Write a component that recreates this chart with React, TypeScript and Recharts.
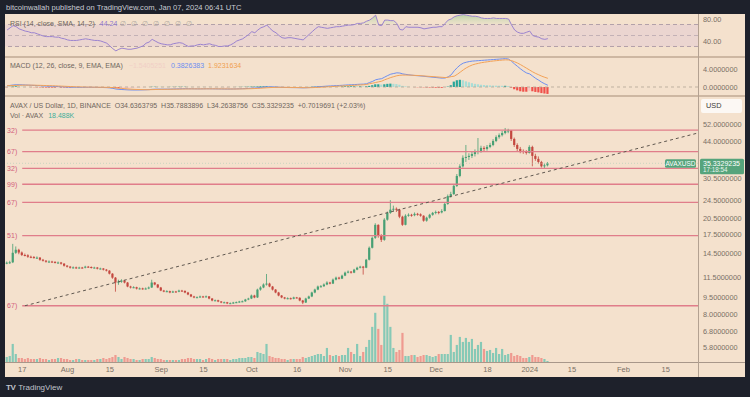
import React from 'react';
import { ComposedChart, Bar, Line, Area, XAxis, YAxis, ReferenceLine, ReferenceArea, Cell } from 'recharts';

// ---- data (daily candles, day 0 = Jul 17 2023) ----
const startDay = -5;
const firstOpen = 13.25;
const closes = [
  13.30, 13.35, 14.66, 15.10, 14.70, 14.35, 14.30, 14.10, 14.05, 13.96,
  13.98, 13.69, 13.56, 13.43, 13.45, 13.40, 13.30, 13.32, 13.17, 12.91,
  12.79, 12.66, 12.70, 12.64, 12.68, 12.66, 12.79, 12.75, 12.66, 12.68,
  12.54, 12.56, 12.42, 12.30, 11.94, 11.48, 10.94, 11.04, 11.15, 10.94,
  10.52, 10.42, 10.45, 10.31, 10.33, 10.30, 10.32, 10.42, 10.94, 10.73,
  10.42, 10.11, 10.02, 10.05, 9.92, 10.02, 10.00, 10.11, 10.08, 9.92,
  9.73, 9.54, 9.45, 9.47, 9.54, 9.52, 9.55, 9.35, 9.17, 9.19,
  9.08, 8.99, 9.01, 8.91, 8.93, 8.99, 9.02, 9.08, 9.10, 9.26,
  9.35, 9.63, 9.45, 10.21, 10.42, 10.73, 10.83, 10.52, 10.21, 9.92,
  9.63, 9.45, 9.35, 9.38, 9.33, 9.45, 9.42, 9.17, 8.99, 9.35,
  9.54, 9.92, 10.21, 10.52, 10.55, 10.73, 10.94, 10.83, 11.26, 11.48,
  11.37, 11.71, 12.06, 12.18, 12.06, 12.42, 12.66, 12.79, 12.66, 13.69,
  15.40, 16.98, 19.29, 17.32, 16.65, 20.30, 21.70, 22.40, 22.60, 22.40,
  20.90, 19.30, 21.10, 21.30, 21.20, 21.50, 21.40, 21.10, 20.10, 20.70,
  21.30, 21.70, 21.90, 21.80, 22.10, 23.70, 25.60, 26.10, 28.30, 31.20,
  34.30, 37.30, 37.60, 38.00, 38.70, 39.50, 39.90, 41.10, 40.70, 41.50,
  42.30, 44.00, 45.70, 46.60, 47.60, 48.60, 48.80, 44.90, 42.30, 40.70,
  39.90, 39.50, 39.10, 41.50, 38.00, 36.90, 35.80, 34.30, 34.6363795, 35.3329235,
];
const highs = [
  13.45, 13.55, 16.00, 15.60, 15.25, 14.85, 14.55, 14.45, 14.25, 14.20,
  14.15, 14.05, 13.80, 13.65, 13.60, 13.55, 13.50, 13.45, 13.40, 13.25,
  13.00, 12.88, 12.82, 12.80, 12.78, 12.76, 12.90, 12.88, 12.82, 12.78,
  12.75, 12.66, 12.62, 12.50, 12.36, 12.00, 11.55, 11.25, 11.30, 11.22,
  11.00, 10.60, 10.55, 10.50, 10.42, 10.40, 10.42, 10.52, 11.25, 11.00,
  10.78, 10.48, 10.18, 10.15, 10.10, 10.10, 10.08, 10.20, 10.18, 10.12,
  9.98, 9.78, 9.60, 9.55, 9.62, 9.60, 9.63, 9.58, 9.40, 9.26,
  9.24, 9.12, 9.07, 9.05, 9.00, 9.05, 9.08, 9.14, 9.17, 9.32,
  9.42, 9.72, 9.70, 10.30, 10.55, 10.85, 11.90, 10.92, 10.58, 10.26,
  9.98, 9.68, 9.50, 9.46, 9.44, 9.52, 9.50, 9.46, 9.22, 9.42,
  9.62, 10.00, 10.30, 10.62, 10.68, 10.85, 11.08, 11.02, 11.38, 11.60,
  11.58, 11.82, 12.18, 12.32, 12.25, 12.52, 12.78, 12.90, 12.88, 13.80,
  15.60, 17.20, 19.60, 19.40, 17.60, 20.60, 22.00, 24.60, 23.30, 22.90,
  22.60, 21.10, 21.40, 21.60, 21.50, 21.80, 21.70, 21.60, 21.20, 20.90,
  21.50, 21.90, 22.20, 22.10, 22.50, 24.00, 26.00, 26.70, 28.80, 31.80,
  35.00, 38.20, 42.30, 39.00, 39.60, 40.50, 45.30, 42.00, 41.80, 42.30,
  43.20, 44.80, 46.50, 47.40, 48.60, 50.00, 49.60, 49.00, 45.50, 43.00,
  41.50, 40.50, 40.20, 42.20, 42.00, 38.80, 37.80, 36.20, 35.20, 35.7883896,
];
const lows = [
  13.10, 13.15, 13.25, 14.50, 14.45, 14.20, 14.15, 13.95, 13.90, 13.85,
  13.80, 13.55, 13.45, 13.30, 13.30, 13.28, 13.20, 13.18, 13.05, 12.80,
  12.68, 12.55, 12.56, 12.52, 12.55, 12.56, 12.58, 12.65, 12.56, 12.56,
  12.45, 12.44, 12.32, 12.20, 11.85, 11.35, 10.00, 10.70, 10.92, 10.85,
  10.45, 10.32, 10.35, 10.22, 10.22, 10.20, 10.22, 10.25, 10.38, 10.65,
  10.35, 10.05, 9.95, 9.95, 9.85, 9.88, 9.92, 9.95, 10.00, 9.85,
  9.66, 9.48, 9.38, 9.40, 9.42, 9.45, 9.46, 9.28, 9.10, 9.11,
  9.02, 8.93, 8.94, 8.85, 8.86, 8.88, 8.94, 8.97, 9.02, 9.05,
  9.20, 9.30, 9.38, 9.40, 10.10, 10.35, 10.62, 10.45, 10.12, 9.85,
  9.56, 9.38, 9.28, 9.28, 9.26, 9.28, 9.35, 9.10, 8.85, 8.95,
  9.30, 9.48, 9.85, 10.15, 10.42, 10.48, 10.66, 10.75, 10.78, 11.18,
  11.28, 11.32, 11.65, 11.98, 11.95, 12.00, 12.35, 12.58, 11.83, 12.60,
  13.60, 15.30, 16.80, 17.00, 16.30, 16.50, 20.10, 21.50, 22.00, 21.90,
  20.60, 19.10, 19.20, 20.90, 20.90, 21.00, 21.10, 20.90, 19.90, 19.90,
  20.50, 21.10, 21.40, 21.40, 21.60, 22.00, 23.50, 25.20, 25.90, 28.00,
  30.80, 33.90, 35.80, 36.50, 37.20, 37.80, 38.60, 39.20, 39.80, 40.00,
  41.00, 41.80, 43.50, 45.00, 46.00, 47.00, 47.50, 44.00, 41.50, 39.80,
  39.00, 38.80, 38.50, 38.90, 34.30, 36.20, 35.20, 33.90, 33.70, 34.2638756,
];
const volumesK = [
  90, 108, 324, 144, 72, 72, 54, 72, 54, 54,
  54, 72, 54, 54, 36, 54, 54, 72, 72, 54,
  54, 36, 36, 54, 54, 36, 36, 36, 36, 36,
  54, 54, 72, 54, 72, 90, 126, 90, 54, 90,
  72, 54, 54, 36, 36, 54, 54, 54, 90, 72,
  54, 54, 36, 36, 36, 36, 36, 36, 54, 54,
  72, 72, 54, 54, 54, 36, 54, 72, 54, 36,
  54, 54, 54, 54, 36, 54, 54, 72, 72, 72,
  90, 90, 72, 180, 162, 144, 324, 108, 90, 72,
  72, 54, 54, 36, 54, 54, 54, 54, 90, 72,
  90, 108, 126, 144, 144, 108, 252, 126, 108, 126,
  108, 126, 126, 252, 180, 144, 324, 108, 180, 270,
  396, 630, 882, 594, 306, 1188, 1044, 630, 252, 180,
  216, 522, 108, 108, 126, 126, 90, 108, 126, 126,
  108, 90, 108, 144, 144, 144, 144, 486, 180, 306,
  450, 360, 432, 360, 414, 234, 306, 360, 234, 198,
  216, 162, 252, 144, 234, 126, 144, 162, 108, 126,
  108, 72, 72, 90, 126, 90, 90, 72, 54, 18.488,
];
const rsi14 = [
  60, 64, 68, 66, 62, 60, 58, 57, 55, 55,
  53, 51, 49, 48, 48, 48, 47, 47, 45, 44,
  42, 41, 41, 41, 42, 43, 44, 43, 42, 41,
  41, 40, 38, 36, 31, 26, 22, 25, 27, 26,
  25, 25, 26, 27, 29, 31, 36, 38, 43, 40,
  37, 35, 34, 33, 33, 35, 36, 37, 36, 33,
  30, 31, 31, 33, 34, 33, 34, 35, 33, 32,
  30, 30, 31, 31, 33, 36, 40, 42, 44, 48,
  52, 57, 55, 60, 64, 66, 69, 63, 58, 55,
  50, 46, 45, 46, 46, 45, 44, 43, 42, 47,
  52, 57, 62, 66, 65, 64, 63, 64, 65, 66,
  66, 67, 68, 69, 69, 70, 72, 72, 73, 76,
  78, 82, 87, 69, 68, 78, 78, 77, 77, 72,
  61, 60, 66, 65, 65, 65, 65, 64, 62, 63,
  64, 65, 65, 66, 66, 72, 78, 80, 84, 86,
  87, 88, 87, 86, 85, 85, 84, 82, 81, 81,
  81, 82, 81, 81, 81, 81, 80, 69, 60, 56,
  54, 54, 56, 58, 50, 48, 47, 44, 43, 44.24,
];
const macdLine = [
  0.25, 0.35, 0.45, 0.5, 0.5, 0.48, 0.45, 0.42, 0.38, 0.35,
  0.32, 0.28, 0.24, 0.2, 0.17, 0.14, 0.12, 0.1, 0.07, 0.04,
  0.0, -0.03, -0.05, -0.07, -0.08, -0.08, -0.07, -0.07, -0.07, -0.08,
  -0.09, -0.1, -0.12, -0.14, -0.2, -0.3, -0.45, -0.52, -0.56, -0.6,
  -0.64, -0.66, -0.67, -0.67, -0.66, -0.64, -0.62, -0.59, -0.52, -0.49,
  -0.48, -0.48, -0.48, -0.48, -0.47, -0.45, -0.43, -0.41, -0.39, -0.38,
  -0.39, -0.4, -0.41, -0.42, -0.42, -0.41, -0.4, -0.4, -0.41, -0.42,
  -0.43, -0.44, -0.45, -0.46, -0.45, -0.44, -0.42, -0.4, -0.38, -0.35,
  -0.31, -0.26, -0.23, -0.17, -0.1, -0.03, 0.02, 0.03, 0.02, -0.01,
  -0.04, -0.08, -0.1, -0.12, -0.13, -0.14, -0.15, -0.17, -0.19, -0.17,
  -0.13, -0.08, -0.02, 0.05, 0.1, 0.15, 0.2, 0.23, 0.27, 0.31,
  0.34, 0.38, 0.43, 0.47, 0.5, 0.54, 0.58, 0.62, 0.64, 0.72,
  1.0, 1.25, 1.6, 1.75, 1.85, 2.2, 2.55, 2.85, 3.0, 3.15,
  3.1, 2.9, 2.8, 2.7, 2.62, 2.55, 2.5, 2.45, 2.38, 2.3,
  2.24, 2.17, 2.1, 2.03, 1.97, 2.0, 2.25, 2.7, 3.6, 4.3,
  4.9, 5.3, 5.5, 5.65, 5.75, 5.8, 5.85, 5.9, 5.95, 6.0,
  6.05, 6.1, 6.15, 6.2, 6.25, 6.3, 6.2, 5.7, 5.1, 4.55,
  4.0, 3.5, 3.1, 2.9, 2.4, 1.9, 1.5, 1.05, 0.7, 0.3826383,
];
const signalLine = [
  0.3, 0.3, 0.32, 0.35, 0.38, 0.4, 0.41, 0.41, 0.41, 0.4,
  0.38, 0.36, 0.34, 0.32, 0.3, 0.27, 0.25, 0.22, 0.19, 0.16,
  0.13, 0.1, 0.07, 0.04, 0.02, 0.0, -0.01, -0.02, -0.03, -0.04,
  -0.05, -0.06, -0.07, -0.08, -0.1, -0.14, -0.2, -0.26, -0.32, -0.38,
  -0.43, -0.48, -0.52, -0.55, -0.57, -0.59, -0.6, -0.6, -0.58, -0.56,
  -0.54, -0.53, -0.52, -0.51, -0.5, -0.49, -0.48, -0.47, -0.45, -0.44,
  -0.43, -0.42, -0.42, -0.42, -0.42, -0.42, -0.41, -0.41, -0.41, -0.41,
  -0.42, -0.42, -0.43, -0.43, -0.44, -0.44, -0.44, -0.43, -0.42, -0.41,
  -0.39, -0.37, -0.34, -0.31, -0.27, -0.22, -0.17, -0.13, -0.1, -0.08,
  -0.07, -0.07, -0.08, -0.09, -0.1, -0.11, -0.12, -0.13, -0.14, -0.15,
  -0.15, -0.14, -0.11, -0.08, -0.04, 0.0, 0.04, 0.08, 0.12, 0.16,
  0.2, 0.23, 0.27, 0.31, 0.34, 0.38, 0.42, 0.46, 0.5, 0.55,
  0.75, 0.85, 1.0, 1.15, 1.3, 1.6, 1.85, 2.1, 2.3, 2.5,
  2.6, 2.65, 2.65, 2.64, 2.62, 2.58, 2.55, 2.5, 2.45, 2.4,
  2.35, 2.3, 2.25, 2.2, 2.15, 2.1, 2.15, 2.3, 2.4, 2.8,
  3.3, 3.8, 4.25, 4.6, 4.9, 5.1, 5.25, 5.4, 5.5, 5.6,
  5.7, 5.78, 5.85, 5.92, 5.98, 6.03, 6.0, 5.85, 5.6, 5.3,
  4.95, 4.55, 4.15, 3.75, 3.35, 3.0, 2.7, 2.4, 2.15, 1.9231634,
];

const timeTicks = [0, 15, 29, 46, 60, 76, 91, 107, 121, 137, 154, 168, 182, 199, 213];
const timeLabels = ['17', 'Aug', '15', 'Sep', '15', 'Oct', '16', 'Nov', '15', 'Dec', '18', '2024', '15', 'Feb', '15'];
const priceTicks = [5.8, 6.8, 8, 9.5, 11.5, 14.5, 17.5, 20.5, 24.5, 30.5, 44, 52];
const fibLevels = [49.0, 39.6, 33.6, 28.75, 24.08, 17.34, 8.71];
const fibLabels = ['32)', '67)', '32)', '99)', '67)', '51)', '67)'];
const trendStart = { day: 0.9, price: 8.71 };
const trendEnd = { day: 223.7, price: 47.6 };
const lastPrice = 35.3329235;
const rsiTicks = [40, 80];
const macdTicks = [0, 4];

// ---- styling ----
const FONT = '"Liberation Sans", Arial, sans-serif';
const DARK = '#1e212b';
const PANEL = '#f4e1cd';
const TXT = '#6f665d';
const AXT = '#7a7065';
const UP = '#47a074';
const DOWN = '#c4473f';
const VUP = '#86c9b6';
const VDOWN = '#ef9a90';
const FIB = '#e07d8a';
const TAG = '#56a47c';
const X_DOMAIN: [number, number] = [-5.7, 223.7];
const W = 750;
const H = 397;

const data = closes.map((c, i) => {
  const open = i === 0 ? firstOpen : closes[i - 1];
  const hist = macdLine[i] - signalLine[i];
  const prevHist = i === 0 ? hist : macdLine[i - 1] - signalLine[i - 1];
  return {
    day: startDay + i,
    open,
    close: c,
    high: highs[i],
    low: lows[i],
    range: [lows[i], highs[i]],
    up: c >= open,
    vol: volumesK[i],
    rsi: rsi14[i],
    rsiOb: [70, Math.max(70, rsi14[i])],
    macd: macdLine[i],
    signal: signalLine[i],
    hist,
    histColor: hist >= 0 ? (hist >= prevHist ? '#26a69a' : '#a9ddd6') : (hist <= prevHist ? '#f0504a' : '#f7c3c2'),
  };
});

const Candle = (props: any) => {
  const { x, y, width, height, payload } = props;
  if (x == null || y == null || !payload) return null;
  const top = Math.min(y, y + height);
  const bot = Math.max(y, y + height);
  const lh = Math.log(payload.high);
  const ll = Math.log(payload.low);
  const span = lh - ll || 1;
  const py = (p: number) => top + ((lh - Math.log(p)) / span) * (bot - top);
  const color = payload.up ? UP : DOWN;
  const cx = x + width / 2;
  const yo = py(payload.open);
  const yc = py(payload.close);
  const bt = Math.min(yo, yc);
  const bh = Math.max(1, Math.abs(yo - yc));
  return (
    <g>
      <line x1={cx} x2={cx} y1={top} y2={bot} stroke={color} strokeWidth={0.8} />
      <rect x={cx - 1.1} y={bt} width={2.2} height={bh} fill={color} />
    </g>
  );
};

const FibLabel = (props: any) => {
  const vb = props.viewBox || {};
  if (vb.x == null) return null;
  return (
    <text x={vb.x - 5} y={vb.y + 2.5} textAnchor="end" fontSize={7} fill="#d3607a" fontFamily={FONT}>
      {props.text}
    </text>
  );
};

const PriceTag = (props: any) => {
  const vb = props.viewBox || {};
  if (vb.x == null) return null;
  const right = vb.x + vb.width;
  const y = vb.y;
  return (
    <g fontFamily={FONT}>
      <rect x={right - 33} y={y - 4} width={31} height={8.5} rx={1.5} fill={TAG} />
      <text x={right - 17.5} y={y + 2.6} textAnchor="middle" fontSize={6.5} fill="#ffffff">AVAXUSD</text>
      <rect x={right + 2} y={y - 4.5} width={44} height={15.5} rx={1.5} fill={TAG} />
      <text x={right + 5} y={y + 2.4} fontSize={7} fill="#ffffff">{lastPrice.toFixed(7)}</text>
      <text x={right + 5} y={y + 9.2} fontSize={6.3} fill="#e6f4ec">17:18:54</text>
    </g>
  );
};

const overlay: React.CSSProperties = { position: 'absolute', left: 0, top: 0, pointerEvents: 'none' };
const hline = (top: number, h: number, color: string, left = 5, width = 740): React.CSSProperties => ({
  position: 'absolute', left, top, width, height: h, background: color,
});

export default function App() {
  return (
    <div style={{ position: 'absolute', left: 0, top: 0, width: W, height: H, background: DARK, overflow: 'hidden', fontFamily: FONT }}>
      <div style={{ position: 'absolute', left: 6, top: 3, fontSize: 7.6, color: '#c9ccd4', whiteSpace: 'nowrap' }}>
        bitcoinwallah published on TradingView.com, Jan 07, 2024 06:41 UTC
      </div>
      <div style={{ position: 'absolute', left: 5, top: 14, width: 740, height: 363, background: PANEL }} />

      {/* volume */}
      <div style={overlay}>
        <ComposedChart width={W} height={H} data={data} margin={{ top: 97, right: 52, bottom: 35, left: 5 }}>
          <XAxis type="number" dataKey="day" domain={X_DOMAIN} allowDataOverflow hide />
          <YAxis domain={[0, 4752]} allowDataOverflow hide />
          <Bar dataKey="vol" barSize={2.2} isAnimationActive={false}>
            {data.map((d, i) => (
              <Cell key={i} fill={d.up ? VUP : VDOWN} />
            ))}
          </Bar>
        </ComposedChart>
      </div>

      {/* main price pane */}
      <div style={overlay}>
        <ComposedChart width={W} height={H} data={data} margin={{ top: 97, right: 5, bottom: 20, left: 5 }}>
          <XAxis
            type="number"
            dataKey="day"
            domain={X_DOMAIN}
            allowDataOverflow
            ticks={timeTicks}
            interval={0}
            tickFormatter={(v: number) => timeLabels[timeTicks.indexOf(v)] ?? ''}
            axisLine={false}
            tickLine={false}
            tickSize={0}
            tickMargin={5}
            height={15}
            tick={{ fontSize: 7.5, fill: AXT, fontFamily: FONT }}
          />
          <YAxis
            orientation="right"
            scale="log"
            domain={[5.01, 67.8]}
            allowDataOverflow
            ticks={priceTicks}
            interval={0}
            tickFormatter={(v: number) => v.toFixed(7)}
            axisLine={false}
            tickLine={false}
            tickSize={3}
            tickMargin={2}
            width={47}
            tick={{ fontSize: 7.3, fill: AXT, fontFamily: FONT }}
          />
          {fibLevels.map((lv, i) => (
            <ReferenceLine
              key={'f' + i}
              segment={[{ x: 0, y: lv }, { x: X_DOMAIN[1], y: lv }]}
              stroke={FIB}
              strokeWidth={1.3}
              ifOverflow="visible"
              label={<FibLabel text={fibLabels[i]} />}
            />
          ))}
          <ReferenceLine
            segment={[{ x: trendStart.day, y: trendStart.price }, { x: trendEnd.day, y: trendEnd.price }]}
            stroke="#5f574f"
            strokeWidth={1}
            strokeDasharray="3 3"
            ifOverflow="visible"
          />
          <ReferenceLine y={lastPrice} stroke="#9fcab2" strokeOpacity={0.5} strokeDasharray="1 2" label={<PriceTag />} />
          <Bar dataKey="range" barSize={2.2} shape={<Candle />} isAnimationActive={false} />
        </ComposedChart>
      </div>

      {/* RSI pane */}
      <div style={overlay}>
        <ComposedChart width={W} height={H} data={data} margin={{ top: 14, right: 5, bottom: 340, left: 5 }}>
          <defs>
            <linearGradient id="obGrad" x1="0" y1="0" x2="0" y2="1">
              <stop offset="0%" stopColor="#6fbf73" stopOpacity={0.75} />
              <stop offset="100%" stopColor="#b8dcb0" stopOpacity={0.2} />
            </linearGradient>
          </defs>
          <XAxis type="number" dataKey="day" domain={X_DOMAIN} allowDataOverflow hide />
          <YAxis
            orientation="right"
            domain={[10.9, 89.1]}
            allowDataOverflow
            ticks={rsiTicks}
            interval={0}
            tickFormatter={(v: number) => v.toFixed(2)}
            axisLine={false}
            tickLine={false}
            tickSize={3}
            tickMargin={2}
            width={47}
            tick={{ fontSize: 7.3, fill: AXT, fontFamily: FONT }}
          />
          <ReferenceArea y1={30} y2={70} fill="#d9bfd8" fillOpacity={0.35} stroke="none" ifOverflow="visible" />
          <ReferenceLine y={70} stroke="#a3929f" strokeDasharray="4 3" strokeWidth={0.8} />
          <ReferenceLine y={50} stroke="#b9a7ae" strokeDasharray="4 3" strokeWidth={0.8} />
          <ReferenceLine y={30} stroke="#a3929f" strokeDasharray="4 3" strokeWidth={0.8} />
          <Area dataKey="rsiOb" stroke="none" fill="url(#obGrad)" isAnimationActive={false} />
          <Line dataKey="rsi" stroke="#9b83cf" strokeWidth={1} dot={false} isAnimationActive={false} />
        </ComposedChart>
      </div>

      {/* MACD pane */}
      <div style={overlay}>
        <ComposedChart width={W} height={H} data={data} margin={{ top: 58, right: 5, bottom: 301, left: 5 }}>
          <XAxis type="number" dataKey="day" domain={X_DOMAIN} allowDataOverflow hide />
          <YAxis
            orientation="right"
            domain={[-2.0, 6.44]}
            allowDataOverflow
            ticks={macdTicks}
            interval={0}
            tickFormatter={(v: number) => v.toFixed(7)}
            axisLine={false}
            tickLine={false}
            tickSize={3}
            tickMargin={2}
            width={47}
            tick={{ fontSize: 7.3, fill: AXT, fontFamily: FONT }}
          />
          <ReferenceLine y={0} stroke="#b4a697" strokeDasharray="3 3" strokeWidth={0.8} />
          <Bar dataKey="hist" barSize={2.2} isAnimationActive={false}>
            {data.map((d, i) => (
              <Cell key={i} fill={d.histColor} />
            ))}
          </Bar>
          <Line dataKey="macd" stroke="#6d8ef0" strokeWidth={1} dot={false} isAnimationActive={false} />
          <Line dataKey="signal" stroke="#f3a257" strokeWidth={1} dot={false} isAnimationActive={false} />
        </ComposedChart>
      </div>

      {/* pane separators */}
      <div style={hline(56, 2, '#cdb7a2')} />
      <div style={hline(95, 2, '#cdb7a2')} />
      <div style={hline(361.5, 1, '#a8978a')} />
      <div style={{ position: 'absolute', left: 697.5, top: 14, width: 1, height: 363, background: '#b3a191' }} />

      {/* legends */}
      <div style={{ position: 'absolute', left: 10, top: 20, fontSize: 7, color: TXT, whiteSpace: 'nowrap' }}>
        RSI (14, close, SMA, 14, 2) <span style={{ color: '#8f79d0', marginLeft: 3 }}>44.24</span>
        <span style={{ color: '#b3aaa2', marginLeft: 3, letterSpacing: 1.5 }}>∅ ∅ ∅ ∅ ∅ ∅ ∅</span>
      </div>
      <div style={{ position: 'absolute', left: 10, top: 62, fontSize: 7, color: TXT, whiteSpace: 'nowrap' }}>
        MACD (12, 26, close, 9, EMA, EMA)
        <span style={{ color: '#f1cfc6', marginLeft: 6 }}>−1.5405251</span>
        <span style={{ color: '#6d8ef0', marginLeft: 5 }}>0.3826383</span>
        <span style={{ color: '#f0a050', marginLeft: 4 }}>1.9231634</span>
      </div>
      <div style={{ position: 'absolute', left: 10, top: 101.5, fontSize: 7, color: TXT, whiteSpace: 'nowrap' }}>
        AVAX / US Dollar, 1D, BINANCE&nbsp;&nbsp;O34.6363795&nbsp;&nbsp;H35.7883896&nbsp;&nbsp;L34.2638756&nbsp;&nbsp;C35.3329235&nbsp;&nbsp;+0.7019691 (+2.03%)
      </div>
      <div style={{ position: 'absolute', left: 10, top: 111.5, fontSize: 7, color: TXT, whiteSpace: 'nowrap' }}>
        Vol · AVAX <span style={{ color: '#3fae9a', marginLeft: 3 }}>18.488K</span>
      </div>
      <div style={{ position: 'absolute', left: 701, top: 99, width: 41, height: 14, background: '#fcf8f4', borderRadius: 2, fontSize: 7.3, color: '#3d3a37', lineHeight: '14px', paddingLeft: 5, boxSizing: 'border-box' }}>
        USD
      </div>

      {/* footer */}
      <div style={{ position: 'absolute', left: 6, top: 383, fontSize: 8, color: '#c0c4cc', whiteSpace: 'nowrap' }}>
        <span style={{ fontWeight: 700, marginRight: 3, letterSpacing: -0.5 }}>TV</span>TradingView
      </div>
    </div>
  );
}
